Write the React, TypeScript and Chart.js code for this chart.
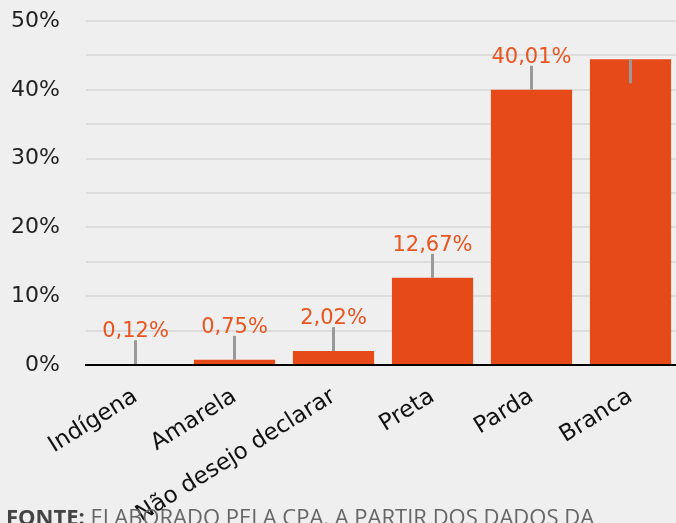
import React, { useEffect, useRef } from "react";
import { Chart, registerables } from "chart.js";

Chart.register(...registerables);

const categories = ["Indígena", "Amarela", "Não desejo declarar", "Preta", "Parda", "Branca"];
const values = [0.12, 0.75, 2.02, 12.67, 40.01, 44.43];
const labelInside = [false, false, false, false, false, true];
const yMin = 0;
const yMax = 50;
const yStep = 5;
const yLabelEvery = 10;
const sourceBold = "FONTE:";
const sourceText = " ELABORADO PELA CPA, A PARTIR DOS DADOS DA";

const FONT = "'DejaVu Sans', sans-serif";
const SRC_FONT = "'Open Sans', sans-serif";
const BAR = "#E64A19";
const LABEL = "#E9541F";
const BG = "#EFEFEF";

const fmt = (v: number) => v.toFixed(2).replace(".", ",") + "%";

const bgPlugin = {
  id: "bg",
  beforeDraw(chart: any) {
    const { ctx, width, height } = chart;
    ctx.save();
    ctx.fillStyle = BG;
    ctx.fillRect(0, 0, width, height);
    ctx.restore();
  },
};

const LINE_LEN = 24;

const valueLabelPlugin = {
  id: "valueLabels",
  beforeDatasetsDraw(chart: any) {
    const { ctx } = chart;
    const meta = chart.getDatasetMeta(0);
    ctx.save();
    ctx.font = `21px ${FONT}`;
    ctx.fillStyle = LABEL;
    ctx.textAlign = "center";
    meta.data.forEach((el: any, i: number) => {
      const txt = fmt(values[i]);
      if (labelInside[i]) {
        ctx.textBaseline = "top";
        ctx.fillText(txt, el.x, el.y + LINE_LEN + 7);
      } else {
        ctx.textBaseline = "alphabetic";
        ctx.fillText(txt, el.x, el.y - LINE_LEN - 3);
      }
    });
    ctx.restore();
  },
  afterDatasetsDraw(chart: any) {
    const { ctx } = chart;
    const meta = chart.getDatasetMeta(0);
    ctx.save();
    ctx.strokeStyle = "#999999";
    ctx.lineWidth = 3;
    meta.data.forEach((el: any, i: number) => {
      ctx.beginPath();
      ctx.moveTo(el.x, el.y);
      ctx.lineTo(el.x, labelInside[i] ? el.y + LINE_LEN : el.y - LINE_LEN);
      ctx.stroke();
    });
    ctx.restore();
  },
};

export default function App() {
  const ref = useRef<HTMLCanvasElement | null>(null);
  useEffect(() => {
    if (!ref.current) return;
    const chart = new Chart(ref.current, {
      type: "bar",
      data: {
        labels: categories,
        datasets: [
          {
            data: values,
            backgroundColor: BAR,
            borderWidth: 0,
            barPercentage: 0.82,
            categoryPercentage: 1,
          },
        ],
      },
      options: {
        animation: false,
        responsive: false,
        devicePixelRatio: 1,
        layout: { padding: { top: 21, right: 20, left: 0, bottom: 0 } },
        plugins: { legend: { display: false }, tooltip: { enabled: false } },
        scales: {
          x: {
            grid: { display: false, drawTicks: false },
            border: { display: true, color: "#000000", width: 2, z: 1 },
            ticks: {
              color: "#111111",
              font: { family: FONT, size: 23 },
              minRotation: 32,
              maxRotation: 32,
              autoSkip: false,
              padding: 18,
            },
            afterFit: (s: any) => {
              s.height = 523 - 365;
              s.paddingTop = 0;
              s.paddingBottom = 0;
            },
          },
          y: {
            min: yMin,
            max: yMax,
            border: { display: false },
            grid: { color: "#DCDCDC", lineWidth: 2, drawTicks: false },
            ticks: {
              stepSize: yStep,
              color: "#222222",
              font: { family: FONT, size: 22 },
              padding: 26,
              callback: (v: any) => (Number(v) % yLabelEvery === 0 ? `${v}%` : ""),
            },
            afterFit: (s: any) => {
              s.width = 86;
              s.paddingTop = 0;
              s.paddingBottom = 0;
            },
          },
        },
      },
      plugins: [bgPlugin, valueLabelPlugin],
    });
    return () => chart.destroy();
  }, []);

  return (
    <div
      style={{
        position: "fixed",
        left: 0,
        top: 0,
        width: 676,
        height: 523,
        overflow: "hidden",
        background: BG,
      }}
    >
      <canvas ref={ref} width={700} height={523} style={{ display: "block", width: 700, height: 523 }} />
      <div
        style={{
          position: "absolute",
          left: 6,
          top: 501,
          fontFamily: SRC_FONT,
          fontSize: 22,
          color: "#666666",
          whiteSpace: "nowrap",
          lineHeight: "30px",
        }}
      >
        <b style={{ color: "#444444" }}>{sourceBold}</b>
        {sourceText}
      </div>
    </div>
  );
}
